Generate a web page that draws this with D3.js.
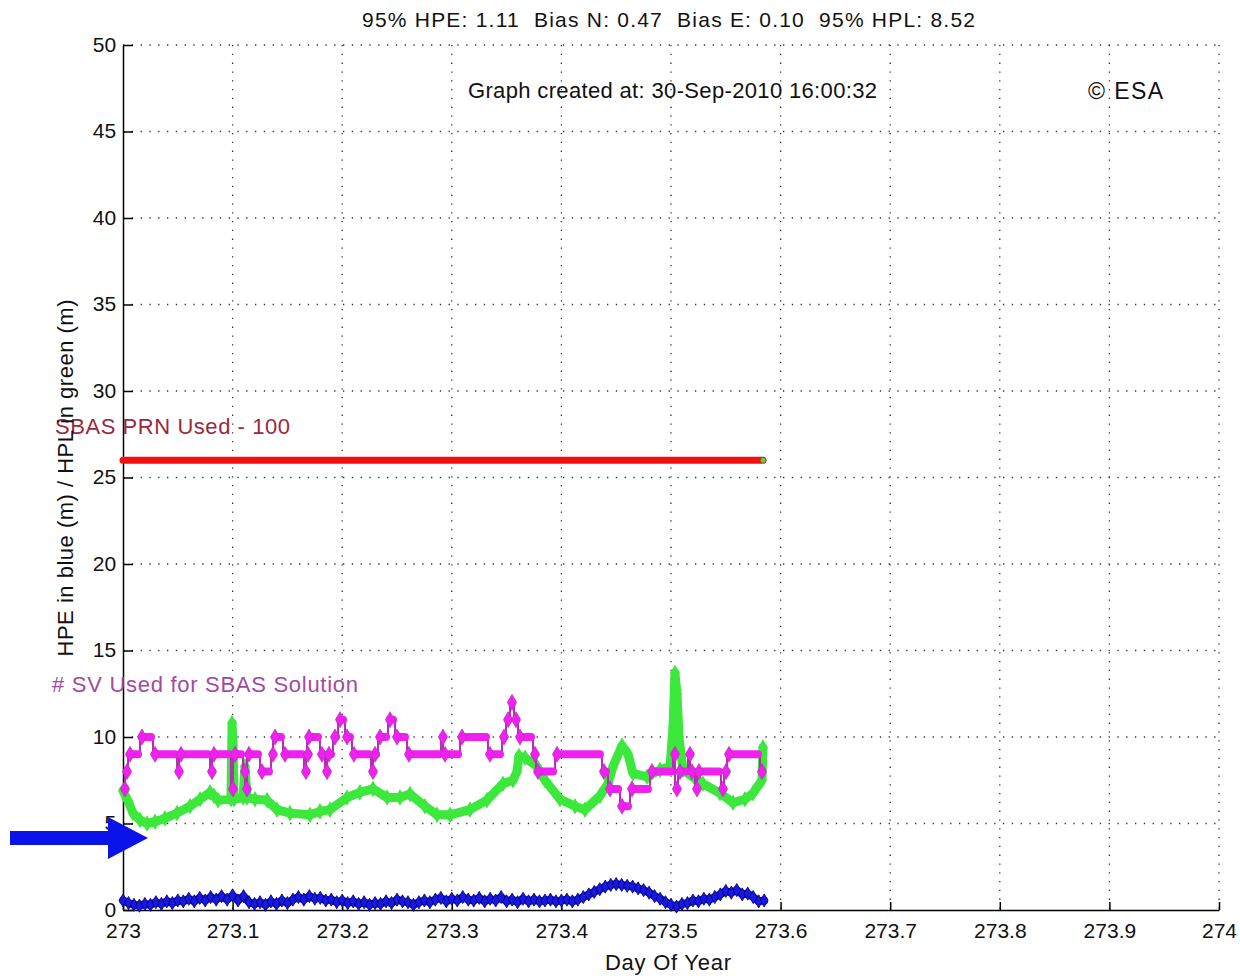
<!DOCTYPE html>
<html>
<head>
<meta charset="utf-8">
<script src="https://cdn.jsdelivr.net/npm/d3@7"></script>
<style>
body { margin: 0; background: #fff; }
svg text { font-family: "Liberation Sans", Arial, sans-serif; white-space: pre; }
</style>
</head>
<body>
<svg id="chart"></svg>
<script>
const W = 1240
const H = 976
const margin = { left: 123, top: 45, right: 21, bottom: 66 }
const innerW = W - margin.left - margin.right
const innerH = H - margin.top - margin.bottom

// x / y ticks
const xTicks = [273, 273.1, 273.2, 273.3, 273.4, 273.5, 273.6, 273.7, 273.8, 273.9, 274]
const xTickLabels = ['273', '273.1', '273.2', '273.3', '273.4', '273.5', '273.6', '273.7', '273.8', '273.9', '274']
const yTicks = [0, 5, 10, 15, 20, 25, 30, 35, 40, 45, 50]

// HPE (blue), sampled every 0.005 day from 273.0
const hpeStart = 273.0
const hpeStep = 0.005
const hpeValues = [
	0.55, 0.4, 0.3, 0.25, 0.35, 0.3, 0.45, 0.35, 0.5, 0.4,
	0.55, 0.5, 0.65, 0.5, 0.7, 0.55, 0.75, 0.6, 0.8, 0.6,
	0.85, 0.55, 0.8, 0.45, 0.35, 0.45, 0.3, 0.5, 0.35, 0.55,
	0.4, 0.6, 0.75, 0.6, 0.8, 0.65, 0.7, 0.55, 0.6, 0.45,
	0.55, 0.4, 0.5, 0.35, 0.45, 0.3, 0.4, 0.35, 0.5, 0.4,
	0.6, 0.5, 0.45, 0.3, 0.45, 0.55, 0.45, 0.6, 0.7, 0.5,
	0.65, 0.55, 0.75, 0.6, 0.55, 0.7, 0.5, 0.65, 0.55, 0.75,
	0.5, 0.6, 0.45, 0.65, 0.5, 0.6, 0.5, 0.55, 0.6, 0.5,
	0.55, 0.6, 0.5, 0.6, 0.75, 0.9, 1.05, 1.2, 1.35, 1.45,
	1.5, 1.45, 1.4, 1.35, 1.25, 1.15, 1.0, 0.8, 0.65, 0.45,
	0.3, 0.2, 0.35, 0.4, 0.55, 0.5, 0.65, 0.6, 0.75, 0.9,
	1.1, 1.0, 1.15, 0.9, 0.95, 0.75, 0.5, 0.55
]

// HPL (green)
const hplDays = [
	273.0000, 273.0046, 273.0091, 273.0155, 273.0219, 273.0292, 273.0383, 273.0493, 273.0611, 273.0703,
	273.0794, 273.0830, 273.0867, 273.0985, 273.0995, 273.1004, 273.1013, 273.1095, 273.1113, 273.1131,
	273.1204, 273.1314, 273.1405, 273.1524, 273.1706, 273.1797, 273.1889, 273.2044, 273.2162, 273.2281,
	273.2409, 273.2527, 273.2619, 273.2755, 273.2865, 273.2984, 273.3166, 273.3321, 273.3467, 273.3558,
	273.3595, 273.3613, 273.3668, 273.3777, 273.3850, 273.3987, 273.4124, 273.4215, 273.4352, 273.4425,
	273.4471, 273.4553, 273.4608, 273.4653, 273.4781, 273.4900, 273.4991, 273.5018, 273.5036, 273.5055,
	273.5073, 273.5109, 273.5219, 273.5292, 273.5447, 273.5566, 273.5675, 273.5748, 273.5830, 273.5839
]
const hplValues = [
	6.9, 6.3, 5.6, 5.2, 5.0, 5.1, 5.3, 5.6, 6.0, 6.4,
	6.8, 6.6, 6.35, 6.4, 10.8, 9.5, 6.4, 6.5, 8.3, 6.5,
	6.4, 6.35, 5.8, 5.6, 5.5, 5.7, 5.8, 6.5, 6.8, 7.0,
	6.5, 6.5, 6.7, 6.0, 5.5, 5.5, 5.8, 6.35, 7.3, 7.5,
	8.0, 8.9, 8.8, 8.3, 7.5, 6.4, 6.0, 5.8, 6.6, 7.3,
	8.3, 9.5, 9.0, 7.9, 7.7, 8.1, 8.3, 10.5, 13.7, 12.5,
	10.0, 8.1, 7.6, 7.3, 6.75, 6.2, 6.4, 6.75, 7.5, 9.4
]

// # SV used (magenta), each count holds until the next day
const svDays = [
	273.0000, 273.0018, 273.0046, 273.0155, 273.0274, 273.0493, 273.0511, 273.0794, 273.0812, 273.0985,
	273.1004, 273.1095, 273.1113, 273.1131, 273.1250, 273.1350, 273.1369, 273.1460, 273.1651, 273.1670,
	273.1679, 273.1797, 273.1843, 273.1861, 273.1916, 273.1962, 273.2026, 273.2089, 273.2263, 273.2281,
	273.2327, 273.2418, 273.2482, 273.2591, 273.2901, 273.2920, 273.3075, 273.3330, 273.3458, 273.3495,
	273.3531, 273.3568, 273.3604, 273.3741, 273.3768, 273.3942, 273.4370, 273.4425, 273.4535, 273.4626,
	273.4808, 273.5018, 273.5036, 273.5064, 273.5155, 273.5173, 273.5219, 273.5237, 273.5456, 273.5484,
	273.5511, 273.5812, 273.5839
]
const svCounts = [
	7, 8, 9, 10, 9, 8, 9, 8, 9, 7,
	9, 8, 7, 9, 8, 9, 10, 9, 8, 9,
	10, 9, 8, 9, 10, 11, 10, 9, 8, 9,
	10, 11, 10, 9, 10, 9, 10, 9, 10, 11,
	12, 11, 10, 9, 8, 9, 8, 7, 6, 7,
	8, 9, 7, 8, 9, 8, 7, 8, 7, 8,
	9, 8, 8
]

// SBAS PRN line (red)
const prnDays = [273.0, 273.584]
const prnValues = [26.0, 26.0]

const titleText = '95% HPE: 1.11  Bias N: 0.47  Bias E: 0.10  95% HPL: 8.52'
const createdText = 'Graph created at: 30-Sep-2010 16:00:32'

const svg = d3.select('#chart').attr('width', W).attr('height', H)

const xScale = d3.scaleLinear().domain([273, 274]).range([margin.left, margin.left + innerW])
const yScale = d3.scaleLinear().domain([0, 50]).range([margin.top + innerH, margin.top])

// grid
const grid = svg.append('g').attr('stroke', '#333').attr('stroke-width', 1.3).attr('stroke-dasharray', '1.3,7.5')
grid.selectAll('.vg').data(xTicks.slice(1)).enter().append('line')
	.attr('x1', d => xScale(d)).attr('x2', d => xScale(d))
	.attr('y1', yScale(50)).attr('y2', yScale(0))
grid.selectAll('.hg').data(yTicks.slice(1)).enter().append('line')
	.attr('x1', xScale(273)).attr('x2', xScale(274))
	.attr('y1', d => yScale(d)).attr('y2', d => yScale(d))

// axes
const xAxis = svg.append('g')
	.attr('transform', `translate(0, ${yScale(0)})`)
	.call(d3.axisBottom(xScale).tickValues(xTicks).tickFormat((d, i) => xTickLabels[i]).tickSizeInner(-8).tickSizeOuter(0).tickPadding(17))
const yAxis = svg.append('g')
	.attr('transform', `translate(${xScale(273)}, 0)`)
	.call(d3.axisLeft(yScale).tickValues(yTicks).tickSizeInner(-10).tickSizeOuter(0).tickPadding(8))
for (const ax of [xAxis, yAxis]) {
	ax.select('.domain').attr('stroke', '#000').attr('stroke-width', 1.5)
	ax.selectAll('.tick line').attr('stroke', '#000').attr('stroke-width', 1.5)
	ax.selectAll('.tick text').attr('font-size', 21).attr('fill', '#111')
		.attr('font-family', '"Liberation Sans", Arial, sans-serif')
}
xAxis.selectAll('.tick text').attr('dy', '0.5em')
yAxis.selectAll('.tick text').attr('dx', '0.05em').attr('dy', '0.3em')

const plot = svg.append('g')

// red PRN line
const prnPts = prnDays.map((d, i) => [d, prnValues[i]])
plot.append('path')
	.attr('d', d3.line().x(p => xScale(p[0])).y(p => yScale(p[1]))(prnPts))
	.attr('fill', 'none').attr('stroke', '#f01010').attr('stroke-width', 7)
	.attr('stroke-linecap', 'round')
plot.append('circle')
	.attr('cx', xScale(prnDays[1])).attr('cy', yScale(prnValues[1])).attr('r', 2.5)
	.attr('fill', '#40e040')

// blue HPE
const hpePts = hpeValues.map((v, i) => [hpeStart + i * hpeStep, v])
plot.append('path')
	.attr('d', d3.line().x(p => xScale(p[0])).y(p => yScale(p[1]))(hpePts))
	.attr('fill', 'none').attr('stroke', '#1818e0').attr('stroke-width', 8)
	.attr('stroke-linejoin', 'round').attr('stroke-linecap', 'round')
plot.selectAll('.hpe').data(hpePts).enter().append('path')
	.attr('transform', p => `translate(${xScale(p[0])}, ${yScale(p[1])})`)
	.attr('d', d3.symbol(d3.symbolDiamond).size(50))
	.attr('fill', '#1818e0').attr('stroke', '#000070').attr('stroke-width', 0.8)

// green HPL
const hplPts = hplDays.map((d, i) => [d, hplValues[i]])
plot.append('path')
	.attr('d', d3.line().x(p => xScale(p[0])).y(p => yScale(p[1]))(hplPts))
	.attr('fill', 'none').attr('stroke', '#3ce83c').attr('stroke-width', 9)
	.attr('stroke-linejoin', 'round').attr('stroke-linecap', 'round')
plot.selectAll('.hpl').data(hplPts).enter().append('path')
	.attr('transform', p => `translate(${xScale(p[0])}, ${yScale(p[1])})`)
	.attr('d', d3.symbol(d3.symbolDiamond).size(80))
	.attr('fill', '#3ce83c')

// magenta SV count
const svPts = svDays.map((d, i) => [d, svCounts[i]])
plot.append('path')
	.attr('d', d3.line().curve(d3.curveStepAfter).x(p => xScale(p[0])).y(p => yScale(p[1]))(svPts))
	.attr('fill', 'none').attr('stroke', '#b030b0').attr('stroke-width', 2)
const segs = svPts.slice(0, -1).map((p, i) => ({ x0: p[0], x1: svPts[i + 1][0], v: p[1] }))
plot.selectAll('.svseg').data(segs).enter().append('line')
	.attr('x1', s => xScale(s.x0) + 2).attr('x2', s => Math.max(xScale(s.x0) + 2, xScale(s.x1) - 2))
	.attr('y1', s => yScale(s.v)).attr('y2', s => yScale(s.v))
	.attr('stroke', '#f020f0').attr('stroke-width', 8).attr('stroke-linecap', 'round')
plot.selectAll('.svmk').data(segs).enter().append('path')
	.attr('transform', s => `translate(${xScale(s.x0) + 2}, ${yScale(s.v)})`)
	.attr('d', d3.symbol(d3.symbolDiamond).size(75))
	.attr('fill', '#f020f0').attr('stroke', '#b030b0').attr('stroke-width', 0.6)

// texts
svg.append('text').attr('x', 362).attr('y', 27)
	.attr('font-size', 21).attr('fill', '#111')
	.attr('textLength', 613).attr('lengthAdjust', 'spacing').text(titleText)
svg.append('text').attr('x', 468).attr('y', 98)
	.attr('font-size', 22).attr('fill', '#111')
	.attr('textLength', 409).attr('lengthAdjust', 'spacing').text(createdText)
svg.append('text').attr('x', 1088).attr('y', 99)
	.attr('font-size', 23).attr('fill', '#111')
	.attr('textLength', 75).attr('lengthAdjust', 'spacing').text('\u00a9 ESA')
svg.append('text').attr('x', 55).attr('y', 434)
	.attr('font-size', 22).attr('fill', '#9a2a3a')
	.attr('textLength', 235).attr('lengthAdjust', 'spacing').text('SBAS PRN Used - 100')
svg.append('text').attr('x', 52).attr('y', 692)
	.attr('font-size', 22).attr('fill', '#a24aa2')
	.attr('textLength', 306).attr('lengthAdjust', 'spacing').text('# SV Used for SBAS Solution')
svg.append('text').attr('transform', 'translate(73, 478) rotate(-90)').attr('text-anchor', 'middle')
	.attr('font-size', 22).attr('fill', '#111')
	.attr('textLength', 357).attr('lengthAdjust', 'spacing').text('HPE in blue (m) / HPL in green (m)')
svg.append('text').attr('x', 668).attr('y', 970).attr('text-anchor', 'middle')
	.attr('font-size', 22).attr('fill', '#111')
	.attr('textLength', 126).attr('lengthAdjust', 'spacing').text('Day Of Year')

// blue arrow on the left
const arrow = d3.path()
arrow.moveTo(10, 831)
arrow.lineTo(108, 831)
arrow.lineTo(108, 817)
arrow.lineTo(148, 838)
arrow.lineTo(108, 859)
arrow.lineTo(108, 845)
arrow.lineTo(10, 845)
arrow.closePath()
svg.append('path').attr('d', arrow.toString()).attr('fill', '#0a14e8')
</script>
</body>
</html>
